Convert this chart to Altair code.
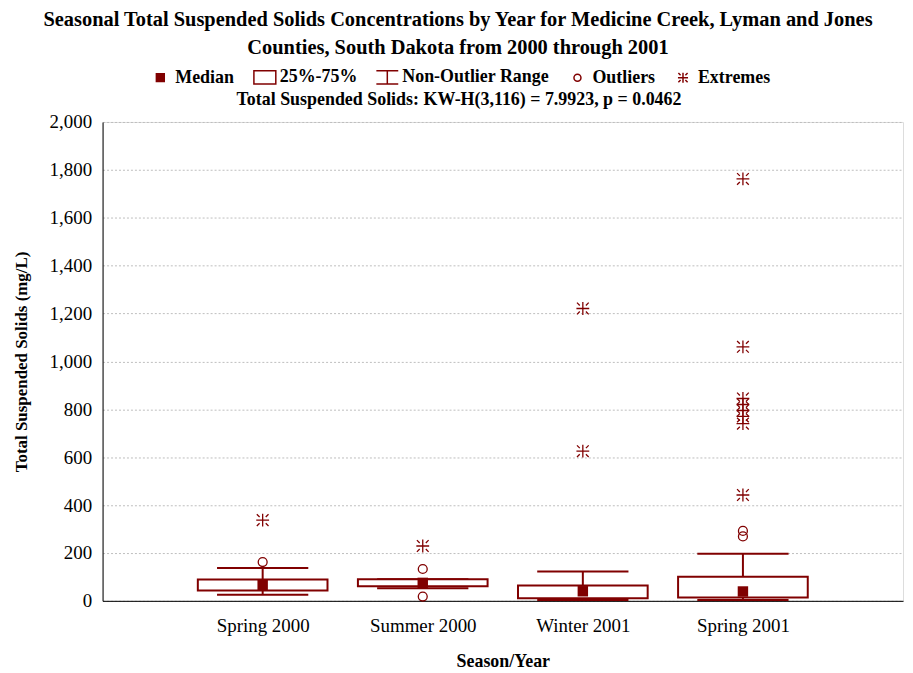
import altair as alt
import pandas as pd

seasons = ["Spring 2000", "Summer 2000", "Winter 2001", "Spring 2001"]
q1 = [43, 61, 11, 14]
q3 = [89, 90, 64, 101]
median = [66, 75, 40, 39]
whisk_lo = [25, 53, 3, 3]
whisk_hi = [137, 90, 123, 197]
outliers = [[162], [133, 18], [], [292, 269]]
extremes = [[337], [229], [1221, 625], [1762, 1061, 845, 820, 795, 770, 740, 442]]

legend_items = ["Median", "25%-75%", "Non-Outlier Range", "Outliers", "Extremes"]
legend_title = "Total Suspended Solids:  KW-H(3,116) = 7.9923, p = 0.0462"
title_lines = ["Seasonal Total Suspended Solids Concentrations by Year for Medicine Creek, Lyman and Jones",
               "Counties, South Dakota from 2000 through 2001"]

RED = "#800000"
FONT = "Liberation Serif"

box_df = pd.DataFrame({
    "season": seasons,
    "pos": list(range(1, len(seasons) + 1)),
    "q1": q1, "q3": q3, "median": median, "lo": whisk_lo, "hi": whisk_hi,
})

pts = []
for i, s in enumerate(seasons):
    for v in outliers[i]:
        pts.append({"season": s, "pos": i + 1, "value": v, "kind": "Outliers"})
    for v in extremes[i]:
        pts.append({"season": s, "pos": i + 1, "value": v, "kind": "Extremes"})
pts_df = pd.DataFrame(pts)

label_expr = "[" + ",".join("'%s'" % s for s in seasons) + "][datum.value-1]"

xscale = alt.Scale(domain=[0, len(seasons) + 1], nice=False, zero=False)
yscale = alt.Scale(domain=[0, 2000], nice=False)

xaxis = alt.Axis(values=list(range(1, len(seasons) + 1)), labelExpr=label_expr,
                 title="Season/Year", grid=False, ticks=False, tickSize=0,
                 domainColor="black", labelFont=FONT, labelFontSize=19,
                 labelColor="black", labelPadding=16, titleFont=FONT,
                 titleFontSize=18, titleFontWeight="bold", titleColor="black",
                 titlePadding=17)
yaxis = alt.Axis(values=list(range(0, 2001, 200)), format=",d", title="Total Suspended Solids (mg/L)",
                 grid=True, gridColor="#bdbdbd", gridDash=[2, 2], gridWidth=1,
                 ticks=False, tickSize=0, domainColor="black",
                 labelFont=FONT, labelFontSize=19, labelColor="black", labelPadding=11,
                 titleFont=FONT, titleFontSize=17, titleFontWeight="bold",
                 titleColor="black", titlePadding=19)

base = alt.Chart(box_df).transform_calculate(
    xl="datum.pos - 0.405", xr="datum.pos + 0.405",
    cl="datum.pos - 0.285", cr="datum.pos + 0.285",
)

stem = base.mark_rule(color=RED, strokeWidth=2).encode(
    x=alt.X("pos:Q", scale=xscale, axis=xaxis),
    y=alt.Y("lo:Q", scale=yscale, axis=yaxis),
    y2="hi:Q",
)
cap_hi = base.mark_rule(color=RED, strokeWidth=2).encode(
    x=alt.X("cl:Q"), x2="cr:Q", y=alt.Y("hi:Q"))
cap_lo = base.mark_rule(color=RED, strokeWidth=2).encode(
    x=alt.X("cl:Q"), x2="cr:Q", y=alt.Y("lo:Q"))
box = base.mark_rect(fill="white", stroke=RED, strokeWidth=2).encode(
    x=alt.X("xl:Q"), x2="xr:Q", y=alt.Y("q1:Q"), y2="q3:Q")
med = base.mark_square(color=RED, size=110, opacity=1).encode(
    x=alt.X("pos:Q"), y=alt.Y("median:Q"))

circle_path = "M0.32,0A0.32,0.32 0 1,1 -0.32,0A0.32,0.32 0 1,1 0.32,0Z"
ast_path = ("M-0.46,0L0.46,0M0,-0.46L0,0.46"
            "M-0.42,-0.42L-0.22,-0.22M0.42,-0.42L0.22,-0.22"
            "M-0.42,0.42L-0.22,0.22M0.42,0.42L0.22,0.22")
square_path = "M-0.36,-0.36L0.36,-0.36L0.36,0.36L-0.36,0.36Z"
rect_path = "M-1,-0.6L1,-0.6L1,0.6L-1,0.6Z"
whisk_path = "M-1,-0.6L1,-0.6M0,-0.6L0,0.6M-1,0.6L1,0.6"

shape_scale = alt.Scale(domain=legend_items,
                        range=[square_path, rect_path, whisk_path, circle_path, ast_path])
fill_scale = alt.Scale(domain=legend_items,
                       range=[RED, "transparent", "transparent", "transparent", "transparent"])
stroke_scale = alt.Scale(domain=legend_items, range=[RED] * len(legend_items))

legend = alt.Legend(title=legend_title, orient="none", legendX=46, legendY=-57,
                    direction="horizontal", titleOrient="bottom", titleAnchor="middle",
                    titleFont=FONT, titleFontSize=18, titleFontWeight="bold",
                    titleColor="black", titlePadding=4, titleLimit=800, labelLimit=400,
                    labelFont=FONT, labelFontSize=18, labelFontWeight="bold",
                    labelColor="black", labelOffset=3, columnPadding=16,
                    symbolSize=484, symbolStrokeColor=RED, symbolStrokeWidth=1.5,
                    symbolOpacity=1)

points = alt.Chart(pts_df).mark_point(filled=False, strokeWidth=1.3, opacity=1).encode(
    x=alt.X("pos:Q"),
    y=alt.Y("value:Q"),
    shape=alt.Shape("kind:N", scale=shape_scale, legend=legend),
    fill=alt.Fill("kind:N", scale=fill_scale, legend=legend),
    stroke=alt.Stroke("kind:N", scale=stroke_scale, legend=legend),
    size=alt.value(784),
)

chart = alt.layer(stem, cap_hi, cap_lo, box, med, points).properties(
    width=804, height=481,
    autosize=alt.AutoSizeParams(type="none"),
    padding={"left": 95, "top": 113, "right": 2, "bottom": 70},
    title=alt.TitleParams(text=title_lines, font=FONT, fontSize=20.5, fontWeight="bold",
                          color="black", anchor="middle", dx=-45, lineHeight=28,
                          offset=7),
).configure_view(stroke="black", strokeWidth=1).configure(background="white")

chart.save("out.html", embed_options={"renderer": "svg", "actions": False})
